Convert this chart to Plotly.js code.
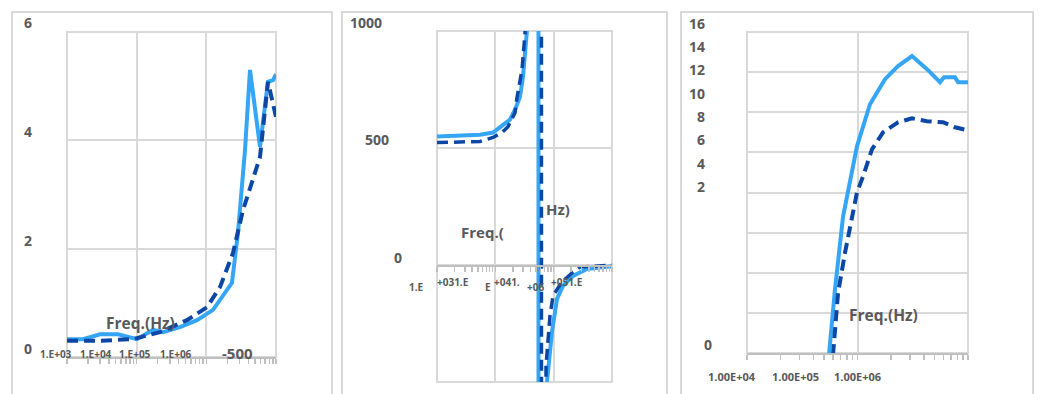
<!DOCTYPE html>
<html>
<head>
<meta charset="utf-8">
<script src="https://cdn.plot.ly/plotly-3.0.1.min.js"></script>
<style>html,body{margin:0;padding:0;background:#fff;}#chart{width:1039px;height:394px;}</style>
</head>
<body>
<div id="chart"></div>
<script>
// ---------- data ----------
// Panel 1
const p1FreqA = [1000, 1700, 2980, 5400, 10100, 17100, 23900, 41900, 73500, 124700, 233300, 284400, 358900, 423600, 589000, 767000, 906000, 1000000];
const p1ValA  = [0.33, 0.33, 0.42, 0.42, 0.33, 0.50, 0.46, 0.55, 0.68, 0.87, 1.37, 2.29, 3.82, 5.30, 3.88, 5.08, 5.11, 5.22];
const p1FreqB = [1000, 2980, 8850, 21600, 52700, 102000, 157000, 241500, 335700, 467700, 589000, 767000, 1000000];
const p1ValB  = [0.30, 0.30, 0.33, 0.46, 0.68, 0.92, 1.29, 1.92, 2.71, 3.27, 3.69, 5.08, 4.43];
// Panel 2
const p2FreqA = [1000, 2790, 5460, 9120, 12020, 17820, 21730, 26490, 29790, 32280, 34910, 52840, 57150, 76910, 93540, 114000, 144500, 214300, 372400, 1000000];
const p2ValA  = [549, 553, 557, 566, 587, 621, 664, 719, 804, 906, 1004, 100000, -100000, -498, -285, -145, -89, -47, -17, -5];
const p2FreqB = [1000, 5460, 9120, 13000, 16480, 21730, 23500, 28640, 32280, 59400, 64200, 73960, 86500, 97500, 139000, 214300, 282500, 820000, 1000000];
const p2ValB  = [523, 528, 545, 566, 591, 651, 715, 834, 991, 100000, -100000, -430, -217, -132, -72, -30, -9, 0, 0];
// Panel 3
const p3FreqA = [552000, 625000, 740000, 855000, 989000, 1297000, 1774000, 2328000, 3112000, 4256000, 5585000, 6067000, 7621000, 8128000, 10000000];
const p3ValA  = [-0.1, 3.15, 6.8, 8.65, 10.3, 12.4, 13.65, 14.3, 14.8, 14.15, 13.5, 13.75, 13.75, 13.5, 13.5];
const p3FreqB = [600000, 667000, 771000, 910000, 989000, 1122000, 1352000, 1702000, 2328000, 3112000, 4256000, 5943000, 7621000, 10000000];
const p3ValB  = [-0.1, 3.0, 5.0, 7.0, 8.0, 8.8, 10.15, 11.0, 11.5, 11.7, 11.55, 11.5, 11.25, 11.1];

// tick / axis label texts
const p1YLabels = ['6', '4', '2', '0'];
const p1XLabels = ['1.E+03', '1.E+04', '1.E+05', '1.E+06'];
const p1Odd = '-500';
const p2YLabels = ['1000', '500', '0'];
const p2XLabels = ['1.E', '+031.E', 'E', '+041.', '+06', '+051.E'];
const p3YLabels = ['16', '14', '12', '10', '8', '6', '4', '2', '0'];
const p3XLabels = ['1.00E+04', '1.00E+05', '1.00E+06'];
const freqTitle = 'Freq.(Hz)';

// ---------- layout helpers ----------
const W = 1039, H = 394;
const px = x => x / W;
const py = y => 1 - y / H;
const LIGHT = '#35a5f5', DARK = '#0d47a6', GRID = '#d9d9d9', TXT = '#595959', AX = '#bfbfbf';
const FONT = 'Open Sans, Noto Sans, sans-serif';

function xAx(domain, range, extra) {
  return Object.assign({
    type: 'log', domain: domain, range: range, dtick: 1,
    showgrid: true, gridcolor: GRID, gridwidth: 2,
    showticklabels: false, ticks: 'outside', ticklen: 5, tickwidth: 1.5, tickcolor: AX,
    minor: {ticks: 'outside', ticklen: 5, tickwidth: 1.5, tickcolor: AX, showgrid: false},
    showline: true, linecolor: AX, linewidth: 2, zeroline: false, fixedrange: true
  }, extra || {});
}
// companion axis that only draws the upper half of the crossing tick marks
function xTickUp(domain, range, extra) {
  return Object.assign({
    type: 'log', domain: domain, range: range, dtick: 1,
    showgrid: false, showticklabels: false, ticks: 'inside', ticklen: 4, tickwidth: 1.5, tickcolor: AX,
    minor: {ticks: 'inside', ticklen: 4, tickwidth: 1.5, tickcolor: AX, showgrid: false},
    showline: false, zeroline: false, fixedrange: true
  }, extra || {});
}
function yAx(domain, range, dtick, extra) {
  return Object.assign({
    domain: domain, range: range, dtick: dtick, tick0: 0,
    showgrid: true, gridcolor: GRID, gridwidth: 2,
    showticklabels: false, ticks: '', showline: false, zeroline: false, fixedrange: true
  }, extra || {});
}

const traces = [
  {x: p1FreqA, y: p1ValA, xaxis: 'x', yaxis: 'y', mode: 'lines', line: {color: LIGHT, width: 4}},
  {x: p1FreqB, y: p1ValB, xaxis: 'x', yaxis: 'y', mode: 'lines', line: {color: DARK, width: 4, dash: '11px,6px'}},
  {x: p2FreqA, y: p2ValA, xaxis: 'x2', yaxis: 'y2', mode: 'lines', line: {color: LIGHT, width: 4}},
  {x: p2FreqB, y: p2ValB, xaxis: 'x2', yaxis: 'y2', mode: 'lines', line: {color: DARK, width: 3.5, dash: '11px,6px'}},
  {x: p3FreqA, y: p3ValA, xaxis: 'x3', yaxis: 'y3', mode: 'lines', line: {color: LIGHT, width: 4}},
  {x: p3FreqB, y: p3ValB, xaxis: 'x3', yaxis: 'y3', mode: 'lines', line: {color: DARK, width: 4, dash: '11px,6px'}}
];

const anns = [];
function ann(text, x, y, size) {
  anns.push({text: text, x: px(x), y: py(y), xref: 'paper', yref: 'paper', showarrow: false,
    xanchor: 'center', yanchor: 'middle', font: {family: FONT, size: size, color: TXT, weight: 700}});
}
// panel 1
[22, 131, 240, 348].forEach((y, i) => ann(p1YLabels[i], 28, y, 14));
[56, 96, 135, 176].forEach((x, i) => ann(p1XLabels[i], x, 354, 10));
ann(p1Odd, 237, 353, 15);
ann(freqTitle, 140, 323, 15.5);
// panel 2
[[366, 22], [377, 139], [398, 257]].forEach((p, i) => ann(p2YLabels[i], p[0], p[1], 14));
[[416, 287], [453, 282], [488, 287], [507, 282], [535, 287], [567, 282]].forEach((p, i) => ann(p2XLabels[i], p[0], p[1], 10));
ann('Freq.(', 482, 232, 15);
ann('Hz)', 558, 209, 15);
// panel 3
[[697, 23], [697, 46], [697, 69], [697, 93], [701, 116], [701, 140], [701, 163], [701, 186], [708, 344]].forEach((p, i) => ann(p3YLabels[i], p[0], p[1], 14));
[732, 795, 857].forEach((x, i) => ann(p3XLabels[i], x, 376, 11));
ann(freqTitle, 883, 315, 15.5);

const shapes = [];
function rectPaper(x0, x1, y0, y1) {
  shapes.push({type: 'rect', xref: 'paper', yref: 'paper', x0: px(x0), x1: px(x1), y0: py(y1), y1: py(y0),
    line: {color: GRID, width: 2}, fillcolor: 'rgba(0,0,0,0)', layer: 'below'});
}
rectPaper(12, 332, 12, 420);
rectPaper(342, 667, 12, 420);
rectPaper(681, 1033, 12, 420);
function rectDomain(xr, yr) {
  shapes.push({type: 'rect', xref: xr + ' domain', yref: yr + ' domain', x0: 0, x1: 1, y0: 0, y1: 1,
    line: {color: GRID, width: 2}, fillcolor: 'rgba(0,0,0,0)', layer: 'below'});
}
rectDomain('x', 'y'); rectDomain('x2', 'y2'); rectDomain('x3', 'y3');

const d1 = [px(67), px(276)], d2 = [px(437), px(612)], d3 = [px(747), px(968)];
const layout = {
  width: W, height: H, margin: {l: 0, r: 0, t: 0, b: 0},
  paper_bgcolor: '#ffffff', plot_bgcolor: 'rgba(0,0,0,0)',
  showlegend: false,
  font: {family: FONT, color: TXT},
  xaxis: xAx(d1, [3, 6], {anchor: 'y'}),
  yaxis: yAx([py(357), py(32)], [0, 6], 2, {anchor: 'x'}),
  xaxis2: xAx(d2, [3, 6], {anchor: 'free', position: py(266)}),
  yaxis2: yAx([py(382), py(31)], [-500, 1000], 500, {anchor: 'x2'}),
  xaxis3: xAx(d3, [5, 7], {anchor: 'y3'}),
  yaxis3: yAx([py(353), py(32)], [0, 16], 2, {anchor: 'x3'}),
  xaxis4: xTickUp(d1, [3, 6], {overlaying: 'x', anchor: 'y'}),
  xaxis5: xTickUp(d2, [3, 6], {overlaying: 'x2', anchor: 'free', position: py(266)}),
  xaxis6: xTickUp(d3, [5, 7], {overlaying: 'x3', anchor: 'y3'}),
  annotations: anns,
  shapes: shapes
};

Plotly.newPlot('chart', traces, layout, {staticPlot: true, displayModeBar: false});
</script>
</body>
</html>
